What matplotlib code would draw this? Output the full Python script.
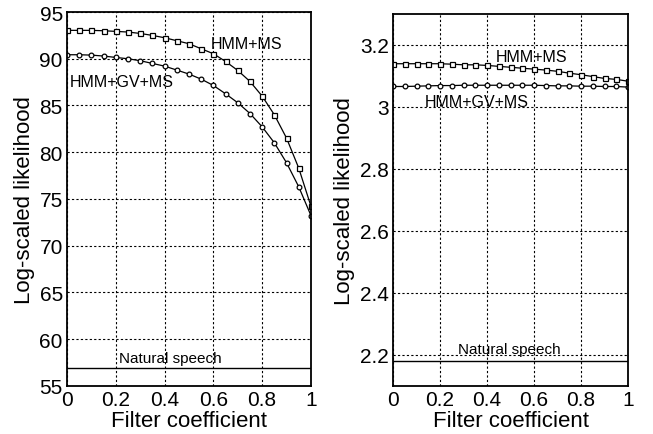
import numpy as np
import matplotlib
matplotlib.use("Agg")
import matplotlib.pyplot as plt

plt.rcParams["font.family"] = ["Liberation Sans", "DejaVu Sans"]

# filter coefficient, 0 .. 1 in steps of 0.05
coef = np.linspace(0, 1, 21)

# left panel
left_ms = [93.04, 93.04, 93.04, 93.0, 92.93, 92.86, 92.71, 92.5, 92.25, 91.93, 91.61,
           91.07, 90.54, 89.71, 88.75, 87.57, 86.0, 84.0, 81.5, 78.29, 74.21]
left_gvms = [90.43, 90.43, 90.39, 90.29, 90.14, 90.0, 89.79, 89.5, 89.21, 88.79, 88.36,
             87.82, 87.14, 86.25, 85.29, 84.14, 82.71, 81.0, 78.86, 76.29, 73.21]
left_natural = 56.85

# right panel
right_ms = [3.1395, 3.1395, 3.1395, 3.1395, 3.1395, 3.138, 3.136, 3.136, 3.134, 3.131, 3.128,
            3.125, 3.122, 3.119, 3.115, 3.109, 3.104, 3.098, 3.092, 3.089, 3.083]
right_gvms = [3.066, 3.066, 3.067, 3.068, 3.069, 3.069, 3.070, 3.070, 3.070, 3.070, 3.070,
              3.070, 3.070, 3.069, 3.068, 3.068, 3.067, 3.067, 3.066, 3.066, 3.064]
right_natural = 2.18

xticks = [0, 0.2, 0.4, 0.6, 0.8, 1]
xticklabels = ["0", "0.2", "0.4", "0.6", "0.8", "1"]
left_yticks = [55, 60, 65, 70, 75, 80, 85, 90, 95]
right_yticks = [2.2, 2.4, 2.6, 2.8, 3.0, 3.2]
right_yticklabels = ["2.2", "2.4", "2.6", "2.8", "3", "3.2"]

fig = plt.figure(figsize=(6.53, 4.35), dpi=100)
ax1 = fig.add_axes([0.1026, 0.111, 0.3736, 0.859])
ax2 = fig.add_axes([0.602, 0.111, 0.3597, 0.8545])


def style(ax):
    ax.set_xlim(0, 1)
    ax.set_xticks(xticks)
    ax.set_xticklabels(xticklabels)
    ax.grid(True, color="black", linestyle=(0, (2, 2)), linewidth=0.8)
    ax.tick_params(length=0, labelsize=15, pad=3)
    for s in ax.spines.values():
        s.set_linewidth(1.3)
    ax.set_xlabel("Filter coefficient", fontsize=16, labelpad=0.5)
    ax.set_ylabel("Log-scaled likelihood", fontsize=16, labelpad=3.5)


line_kw = dict(color="black", linewidth=0.9, markerfacecolor="white", markeredgewidth=0.9)

ax1.plot(coef, left_ms, marker="s", markersize=3.6, **line_kw)
ax1.plot(coef, left_gvms, marker="o", markersize=3.4, **line_kw)
ax1.axhline(left_natural, color="black", linewidth=1)
ax1.set_ylim(55, 95)
ax1.set_yticks(left_yticks)
style(ax1)
ax1.text(0.59, 91.15, "HMM+MS", fontsize=11.5)
ax1.text(0.012, 87.1, "HMM+GV+MS", fontsize=11.5)
ax1.text(0.213, 57.5, "Natural speech", fontsize=11)

ax2.plot(coef, right_ms, marker="s", markersize=3.6, **line_kw)
ax2.plot(coef, right_gvms, marker="o", markersize=3.4, **line_kw)
ax2.axhline(right_natural, color="black", linewidth=1)
ax2.set_ylim(2.1, 3.3)
ax2.set_yticks(right_yticks)
ax2.set_yticklabels(right_yticklabels)
style(ax2)
ax2.text(0.438, 3.147, "HMM+MS", fontsize=11.5)
ax2.text(0.136, 3.0045, "HMM+GV+MS", fontsize=11.5)
ax2.text(0.277, 2.207, "Natural speech", fontsize=11)

fig.savefig("out.png", dpi=100)
